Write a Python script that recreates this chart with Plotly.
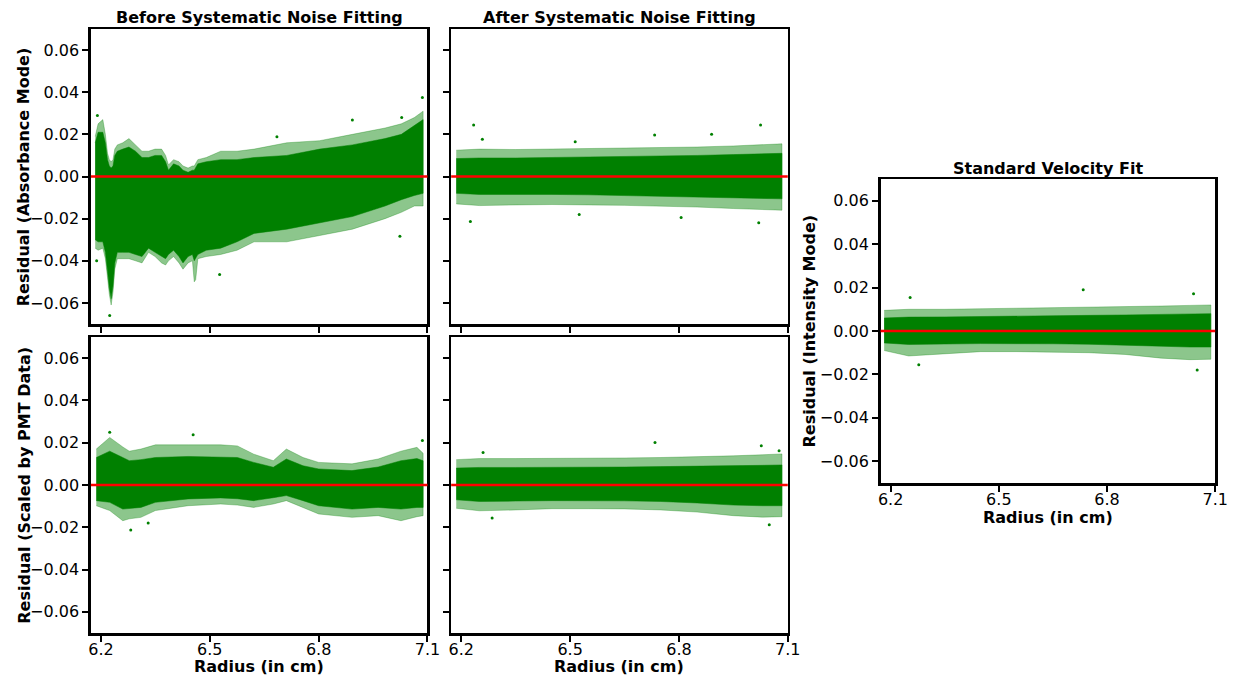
import plotly.graph_objects as go

W, H = 1243, 677

# ---------------- data ----------------
x_tick_vals = [6.2, 6.5, 6.8, 7.1]
x_tick_text = ["6.2", "6.5", "6.8", "7.1"]
y_tick_vals = [-0.06, -0.04, -0.02, 0.0, 0.02, 0.04, 0.06]
y_tick_text = ["\u22120.06", "\u22120.04", "\u22120.02", "0.00", "0.02", "0.04", "0.06"]
x_range = [6.172, 7.100]
y_range = [-0.07, 0.07]

# Panel A: Before systematic noise fitting, absorbance mode
r_a = [6.184, 6.192, 6.205, 6.212, 6.218, 6.223, 6.228, 6.233, 6.238, 6.245, 6.260, 6.277,
       6.295, 6.313, 6.331, 6.349, 6.367, 6.378, 6.386, 6.400, 6.415, 6.426, 6.440, 6.452,
       6.457, 6.461, 6.467, 6.490, 6.530, 6.575, 6.622, 6.712, 6.803, 6.893, 6.983, 7.028,
       7.064, 7.088]
core_hi_a = [0.016, 0.021, 0.021, 0.016, 0.008, 0.005, 0.004, 0.005, 0.010, 0.012, 0.013, 0.014,
             0.012, 0.009, 0.009, 0.010, 0.010, 0.007, 0.003, 0.006, 0.005, 0.003, 0.002, 0.003,
             0.003, 0.004, 0.006, 0.007, 0.008, 0.008, 0.009, 0.010, 0.013, 0.015, 0.018, 0.020,
             0.024, 0.027]
fringe_hi_a = [0.019, 0.025, 0.027, 0.020, 0.011, 0.008, 0.007, 0.008, 0.013, 0.015, 0.016, 0.018,
               0.015, 0.012, 0.012, 0.013, 0.013, 0.010, 0.0055, 0.008, 0.007, 0.005, 0.004, 0.005,
               0.005, 0.006, 0.008, 0.009, 0.012, 0.012, 0.013, 0.016, 0.017, 0.020, 0.023, 0.025,
               0.028, 0.031]
core_lo_a = [-0.030, -0.031, -0.031, -0.036, -0.045, -0.053, -0.058, -0.052, -0.041, -0.036, -0.036, -0.036,
             -0.037, -0.038, -0.034, -0.036, -0.038, -0.039, -0.037, -0.035, -0.038, -0.041, -0.038, -0.037,
             -0.040, -0.039, -0.037, -0.035, -0.034, -0.031, -0.027, -0.025, -0.022, -0.019, -0.014, -0.011,
             -0.009, -0.008]
fringe_lo_a = [-0.034, -0.035, -0.034, -0.039, -0.048, -0.056, -0.061, -0.055, -0.044, -0.039, -0.039, -0.039,
               -0.040, -0.041, -0.036, -0.038, -0.041, -0.042, -0.040, -0.038, -0.041, -0.044, -0.041, -0.040,
               -0.050, -0.049, -0.039, -0.038, -0.037, -0.035, -0.031, -0.031, -0.028, -0.025, -0.020, -0.017,
               -0.014, -0.014]
out_r_a = [6.190, 6.224, 6.188, 6.527, 6.685, 6.893, 7.029, 7.086, 7.024]
out_y_a = [0.029, -0.066, -0.040, -0.0465, 0.0189, 0.0268, 0.028, 0.0375, -0.0283]

# Panel B: After systematic noise fitting, absorbance mode
r_b = [6.186, 6.25, 6.35, 6.45, 6.55, 6.65, 6.75, 6.85, 6.95, 7.03, 7.084]
core_hi_b = [0.0085, 0.0088, 0.0088, 0.0090, 0.0092, 0.0094, 0.0097, 0.0100, 0.0104, 0.0108, 0.0110]
fringe_hi_b = [0.0125, 0.0130, 0.0128, 0.0130, 0.0132, 0.0135, 0.0138, 0.0140, 0.0145, 0.0150, 0.0155]
core_lo_b = [-0.0080, -0.0085, -0.0085, -0.0085, -0.0087, -0.0089, -0.0092, -0.0095, -0.0100, -0.0104, -0.0106]
fringe_lo_b = [-0.0130, -0.0138, -0.0135, -0.0133, -0.0135, -0.0137, -0.0140, -0.0145, -0.0152, -0.0158, -0.0160]
out_r_b = [6.234, 6.733, 7.025, 6.890, 6.225, 7.020, 6.525, 6.806, 6.258, 6.514]
out_y_b = [0.0244, 0.0197, 0.0244, 0.0200, -0.0213, -0.0220, -0.0180, -0.0195, 0.0177, 0.0165]

# Panel C: Before systematic noise fitting, scaled by PMT data
r_c = [6.187, 6.224, 6.260, 6.278, 6.310, 6.350, 6.440, 6.530, 6.576, 6.621, 6.675, 6.711,
       6.757, 6.800, 6.892, 6.964, 7.027, 7.071, 7.088]
core_hi_c = [0.013, 0.016, 0.013, 0.0115, 0.012, 0.013, 0.0135, 0.013, 0.013, 0.0107, 0.0084, 0.0123,
             0.0091, 0.0076, 0.0068, 0.0085, 0.0115, 0.0125, 0.0115]
fringe_hi_c = [0.017, 0.0225, 0.018, 0.016, 0.017, 0.019, 0.019, 0.019, 0.0185, 0.0146, 0.0115, 0.017,
               0.013, 0.0107, 0.010, 0.0123, 0.016, 0.0178, 0.015]
core_lo_c = [-0.0074, -0.0082, -0.0114, -0.011, -0.0106, -0.0082, -0.0066, -0.0061, -0.0065, -0.0074, -0.006, -0.005,
             -0.0074, -0.0098, -0.0114, -0.0106, -0.0114, -0.0106, -0.0106]
fringe_lo_c = [-0.0098, -0.0121, -0.0169, -0.016, -0.0153, -0.0121, -0.0098, -0.009, -0.0095, -0.0106, -0.009, -0.0074,
               -0.0106, -0.0137, -0.0153, -0.0145, -0.0169, -0.015, -0.0145]
out_r_c = [6.224, 6.454, 6.282, 7.086, 6.330]
out_y_c = [0.0249, 0.0238, -0.0213, 0.0210, -0.0180]

# Panel D: After systematic noise fitting, scaled by PMT data
r_d = [6.186, 6.25, 6.35, 6.45, 6.55, 6.65, 6.75, 6.85, 6.95, 7.03, 7.084]
core_hi_d = [0.0080, 0.0083, 0.0083, 0.0083, 0.0083, 0.0085, 0.0087, 0.0088, 0.0090, 0.0093, 0.0095]
fringe_hi_d = [0.0120, 0.0125, 0.0125, 0.0125, 0.0125, 0.0128, 0.0130, 0.0133, 0.0138, 0.0143, 0.0147]
core_lo_d = [-0.0070, -0.0078, -0.0076, -0.0074, -0.0074, -0.0075, -0.0078, -0.0085, -0.0095, -0.0098, -0.0098]
fringe_lo_d = [-0.0110, -0.0122, -0.0118, -0.0112, -0.0112, -0.0113, -0.0118, -0.0128, -0.0145, -0.0152, -0.0150]
out_r_d = [6.734, 7.049, 7.027, 6.285, 6.260, 7.076]
out_y_d = [0.0201, -0.0188, 0.0186, -0.0156, 0.0154, 0.0162]

# Panel E: Standard velocity fit, intensity mode
r_e = [6.182, 6.25, 6.35, 6.45, 6.55, 6.65, 6.75, 6.85, 6.95, 7.03, 7.088]
core_hi_e = [0.0060, 0.0064, 0.0065, 0.0066, 0.0068, 0.0070, 0.0072, 0.0074, 0.0077, 0.0080, 0.0080]
fringe_hi_e = [0.0095, 0.0100, 0.0100, 0.0102, 0.0104, 0.0106, 0.0108, 0.0110, 0.0115, 0.0118, 0.0120]
core_lo_e = [-0.0055, -0.0062, -0.0060, -0.0058, -0.0058, -0.0059, -0.0061, -0.0064, -0.0070, -0.0074, -0.0074]
fringe_lo_e = [-0.0090, -0.0115, -0.0105, -0.0095, -0.0095, -0.0097, -0.0100, -0.0108, -0.0125, -0.0132, -0.0130]
out_r_e = [6.734, 7.050, 6.278, 7.040, 6.254]
out_y_e = [0.0190, -0.0180, -0.0155, 0.0172, 0.0154]

baseline = 0.0

panels = [
    ("x", "y", r_a, core_hi_a, core_lo_a, fringe_hi_a, fringe_lo_a, out_r_a, out_y_a),
    ("x2", "y2", r_b, core_hi_b, core_lo_b, fringe_hi_b, fringe_lo_b, out_r_b, out_y_b),
    ("x3", "y3", r_c, core_hi_c, core_lo_c, fringe_hi_c, fringe_lo_c, out_r_c, out_y_c),
    ("x4", "y4", r_d, core_hi_d, core_lo_d, fringe_hi_d, fringe_lo_d, out_r_d, out_y_d),
    ("x5", "y5", r_e, core_hi_e, core_lo_e, fringe_hi_e, fringe_lo_e, out_r_e, out_y_e),
]

GREEN = "#008000"
fig = go.Figure()
for xa, ya, r, chi, clo, fhi, flo, orr, oy in panels:
    fig.add_trace(go.Scatter(
        x=list(r) + list(r)[::-1], y=list(fhi) + list(flo)[::-1],
        xaxis=xa, yaxis=ya, mode="lines", fill="toself",
        fillcolor="rgba(0,128,0,0.45)", line=dict(width=0.6, color="rgba(0,128,0,0.5)"),
        hoverinfo="skip", showlegend=False))
    fig.add_trace(go.Scatter(
        x=list(r) + list(r)[::-1], y=list(chi) + list(clo)[::-1],
        xaxis=xa, yaxis=ya, mode="lines", fill="toself",
        fillcolor=GREEN, line=dict(width=0.5, color=GREEN),
        hoverinfo="skip", showlegend=False))
    fig.add_trace(go.Scatter(
        x=orr, y=oy, xaxis=xa, yaxis=ya, mode="markers",
        marker=dict(size=3, color=GREEN), showlegend=False))
    fig.add_shape(type="line", xref=f"{xa} domain", yref=ya, x0=0, x1=1,
                  y0=baseline, y1=baseline, line=dict(color="#ff0000", width=2.4), layer="above")

def px_x(a, b):
    return [a / W, b / W]

def px_y(top, bottom):
    return [1 - bottom / H, 1 - top / H]

FONT = "DejaVu Sans"
tickfont = dict(family=FONT, size=16, color="black")
common = dict(showline=True, linewidth=2.5, linecolor="black", mirror=True,
              ticks="outside", ticklen=6, tickwidth=2, tickcolor="black",
              showgrid=False, zeroline=False, tickfont=tickfont, fixedrange=True)

def xaxis(domain, anchor, labels):
    return dict(domain=domain, anchor=anchor, range=x_range, tickmode="array",
                tickvals=x_tick_vals, ticktext=x_tick_text, showticklabels=labels,
                ticklabelstandoff=-6, **common)

def yaxis(domain, anchor, labels):
    return dict(domain=domain, anchor=anchor, range=y_range, tickmode="array",
                tickvals=y_tick_vals, ticktext=y_tick_text, showticklabels=labels, **common)

L1, R1 = 89, 430
L2, R2 = 454, 795
L3, R3 = 889, 1228
T1, B1 = 29, 324
T2, B2 = 337, 633
T3, B3 = 179, 483

fig.update_layout(
    width=W, height=H, autosize=False,
    margin=dict(l=0, r=0, t=0, b=0),
    paper_bgcolor="white", plot_bgcolor="white",
    font=dict(family=FONT, color="black"),
    xaxis=xaxis(px_x(L1, R1), "y", False),
    yaxis=yaxis(px_y(T1, B1), "x", True),
    xaxis2=xaxis(px_x(L2, R2), "y2", False),
    yaxis2=yaxis(px_y(T1, B1), "x2", False),
    xaxis3=xaxis(px_x(L1, R1), "y3", True),
    yaxis3=yaxis(px_y(T2, B2), "x3", True),
    xaxis4=xaxis(px_x(L2, R2), "y4", True),
    yaxis4=yaxis(px_y(T2, B2), "x4", False),
    xaxis5=xaxis(px_x(L3, R3), "y5", True),
    yaxis5=yaxis(px_y(T3, B3), "x5", True),
)

def ann(text, xc, yc, angle=0, size=16):
    fig.add_annotation(text=f"<b>{text}</b>", xref="paper", yref="paper",
                       x=xc / W, y=1 - yc / H, xanchor="center", yanchor="middle",
                       showarrow=False, textangle=angle,
                       font=dict(family=FONT, size=size, color="black"))

ann("Before Systematic Noise Fitting", (L1 + R1) / 2, 18)
ann("After Systematic Noise Fitting", (L2 + R2) / 2, 18)
ann("Standard Velocity Fit", (L3 + R3) / 2, 168)
ann("Radius (in cm)", (L1 + R1) / 2, 666)
ann("Radius (in cm)", (L2 + R2) / 2, 666)
ann("Radius (in cm)", (L3 + R3) / 2, 517)
ann("Residual (Absorbance Mode)", 21, (T1 + B1) / 2, angle=-90)
ann("Residual (Scaled by PMT Data)", 21, (T2 + B2) / 2, angle=-90)
ann("Residual (Intensity Mode)", 817, (T3 + B3) / 2, angle=-90)

fig.write_html(
    "out.html",
    config={"displayModeBar": False, "staticPlot": True, "responsive": False},
    default_width=f"{W}px", default_height=f"{H}px",
    post_script=(
        "document.body.style.margin='0px';"
        "document.body.style.overflow='hidden';"
        f"Plotly.relayout(document.getElementById('{{plot_id}}'), {{width:{W}, height:{H}, autosize:false}});"
    ),
)
